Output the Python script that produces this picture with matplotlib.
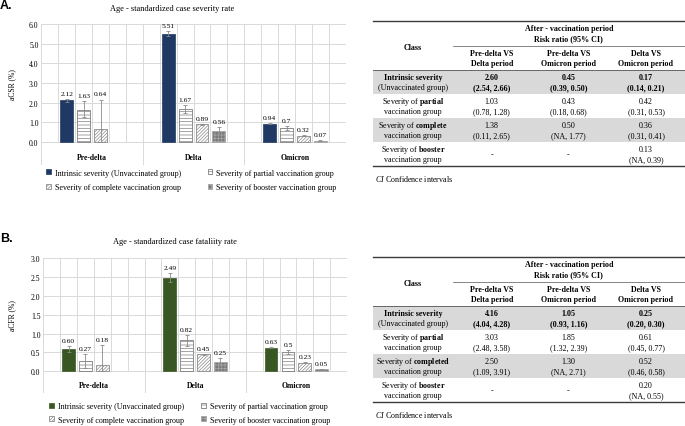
import numpy as np
import matplotlib.pyplot as plt
from matplotlib.ticker import FormatStrFormatter

plt.rcParams['font.family'] = ['Liberation Serif', 'DejaVu Serif']
plt.rcParams['mathtext.fontset'] = 'custom'
plt.rcParams['mathtext.rm'] = 'Liberation Serif'
plt.rcParams['mathtext.bf'] = 'Liberation Serif:bold'
plt.rcParams['mathtext.it'] = 'Liberation Serif:italic'
plt.rcParams['hatch.linewidth'] = 0.5

W, H = 685, 427

periods = ["Pre-delta", "Delta", "Omicron"]
series_names = ["Intrinsic severity (Unvaccinated group)",
                "Severity of partial vaccination group",
                "Severity of complete vaccination group",
                "Severity of booster vaccination group"]

# A. age-standardized case severity rate, aCSR (%)
csr_intrinsic = [2.12, 5.51, 0.94]
csr_partial = [1.63, 1.67, 0.70]
csr_complete = [0.64, 0.89, 0.32]
csr_booster = [np.nan, 0.56, 0.07]
csr_low = [[2.04, 5.41, 0.91], [1.27, 1.47, 0.62], [0.0, 0.85, 0.30], [np.nan, 0.40, 0.05]]
csr_high = [[2.20, 5.63, 0.97], [2.06, 1.88, 0.80], [2.16, 0.93, 0.34], [np.nan, 0.76, 0.09]]
csr_text = [["2.12", "5.51", "0.94"], ["1.63", "1.67", "0.7"],
            ["0.64", "0.89", "0.32"], ["", "0.56", "0.07"]]

# B. age-standardized case fatality rate, aCFR (%)
cfr_intrinsic = [0.60, 2.49, 0.63]
cfr_partial = [0.27, 0.82, 0.50]
cfr_complete = [0.18, 0.45, 0.23]
cfr_booster = [np.nan, 0.25, 0.05]
cfr_low = [[0.52, 2.38, 0.61], [0.10, 0.68, 0.45], [0.0, 0.43, 0.22], [np.nan, 0.15, 0.04]]
cfr_high = [[0.68, 2.60, 0.65], [0.45, 0.96, 0.57], [0.70, 0.47, 0.24], [np.nan, 0.36, 0.06]]
cfr_text = [["0.60", "2.49", "0.63"], ["0.27", "0.82", "0.5"],
            ["0.18", "0.45", "0.23"], ["", "0.25", "0.05"]]

# tables: risk ratio (95% CI)
tab_cols = [("Pre-delta VS", "Delta period"), ("Pre-delta VS", "Omicron period"),
            ("Delta VS", "Omicron period")]
class_a = [("Intrinsic severity", "(Unvaccinated group)"),
           (r"Severity of $\mathbf{partial}$", "vaccination group"),
           (r"Severity of $\mathbf{complete}$", "vaccination group"),
           (r"Severity of $\mathbf{booster}$", "vaccination group")]
rr_a = [["2.60", "0.45", "0.17"], ["1.03", "0.43", "0.42"],
        ["1.38", "0.50", "0.36"], ["-", "-", "0.13"]]
ci_a = [["(2.54, 2.66)", "(0.39, 0.50)", "(0.14, 0.21)"],
        ["(0.78, 1.28)", "(0.18, 0.68)", "(0.31, 0.53)"],
        ["(0.11, 2.65)", "(NA, 1.77)", "(0.31, 0.41)"],
        ["", "", "(NA, 0.39)"]]
class_b = [("Intrinsic severity", "(Unvaccinated group)"),
           (r"Severity of $\mathbf{partial}$", "vaccination group"),
           (r"Severity of $\mathbf{completed}$", "vaccination group"),
           (r"Severity of $\mathbf{booster}$", "vaccination group")]
rr_b = [["4.16", "1.05", "0.25"], ["3.03", "1.85", "0.61"],
        ["2.50", "1.30", "0.52"], ["-", "-", "0.20"]]
ci_b = [["(4.04, 4.28)", "(0.93, 1.16)", "(0.20, 0.30)"],
        ["(2.48, 3.58)", "(1.32, 2.39)", "(0.45, 0.77)"],
        ["(1.09, 3.91)", "(NA, 2.71)", "(0.46, 0.58)"],
        ["", "", "(NA, 0.55)"]]


def fx(px):
    return px / W


def fy(py):
    return 1 - py / H


def draw_chart(ax, values, lows, highs, texts, main_color, ymax, ystep, ybottom):
    styles = [dict(color=main_color, edgecolor=main_color, linewidth=0.5),
              dict(color='white', edgecolor='#7f7f7f', hatch='-----', linewidth=0.6),
              dict(color='white', edgecolor='#8c8c8c', hatch='//////////', linewidth=0.6),
              dict(color='#7a7a7a', edgecolor='#a8a8a8', hatch='+++++', linewidth=0.6)]
    handles = []
    for i, vals in enumerate(values):
        x = np.arange(len(periods)) * 6 + 1.5 + i
        v = np.array(vals, dtype=float)
        b = ax.bar(x, v, width=0.76, zorder=3, label=series_names[i], **styles[i])
        handles.append(b)
        lo = np.array(lows[i], dtype=float)
        hi = np.array(highs[i], dtype=float)
        ok = ~np.isnan(v)
        ax.errorbar(x[ok], v[ok], yerr=[v[ok] - lo[ok], hi[ok] - v[ok]], fmt='none',
                    ecolor='#8a8a8a', elinewidth=0.6, capsize=1.5, capthick=0.6, zorder=4)
        for xi, vi, hii, t in zip(x[ok], v[ok], hi[ok], np.array(texts[i])[ok]):
            ax.annotate(t, (xi, max(vi, hii)), xytext=(0, 2.2), textcoords='offset points',
                        ha='center', va='bottom', fontsize=5.4, zorder=5)

    n = len(periods) * 6
    ax.set_xlim(0, n)
    ax.set_ylim(ybottom, ymax)
    grid = '#d9d9d9'
    for yv in np.arange(0, ymax + 1e-9, ystep):
        ax.axhline(yv, color=grid, lw=0.7, zorder=1)
    minor = [k for k in range(1, n) if k % 6 != 0]
    ax.vlines(minor, 0, ymax, color=grid, lw=0.7, zorder=1)
    ax.vlines(range(0, n + 1, 6), ybottom, ymax, color=grid, lw=0.7, zorder=1)
    for g, name in enumerate(periods):
        ax.text(6 * g + 3, 0.03, name, transform=ax.get_xaxis_transform(),
                ha='center', va='bottom', fontsize=5.5, fontweight='bold')
    for s in ax.spines.values():
        s.set_visible(False)
    ax.set_xticks([])
    ax.set_yticks(np.arange(0, ymax + 1e-9, ystep))
    ax.yaxis.set_major_formatter(FormatStrFormatter('%.1f'))
    ax.tick_params(axis='y', length=0, pad=2, labelsize=5.5)
    return handles


fig = plt.figure(figsize=(W / 100, H / 100), dpi=100)

# ---- chart A
ax_a = fig.add_axes([fx(41.3), fy(166), fx(304.5), 141 / H])
h_a = draw_chart(ax_a, [csr_intrinsic, csr_partial, csr_complete, csr_booster],
                 csr_low, csr_high, csr_text, '#1f3864', 6.0, 1.0, -1.17)
fig.text(fx(0), fy(6), "A.", family='Liberation Sans', fontweight='bold', fontsize=9, va='center')
fig.text(fx(172), fy(9), "Age - standardized case severity rate", ha='center', va='center', fontsize=6)
fig.text(fx(12), fy(85), "aCSR (%)", rotation=90, ha='center', va='center', fontsize=5.5)
order = [0, 2, 1, 3]
fig.legend([h_a[k] for k in order], [series_names[k] for k in order], ncol=2,
           loc='upper left', bbox_to_anchor=(fx(46), fy(169.5)), frameon=False,
           fontsize=5.8, handlelength=0.6, handleheight=0.6, handletextpad=0.5,
           columnspacing=3.3, labelspacing=0.85, borderpad=0, borderaxespad=0)

# ---- chart B
ax_b = fig.add_axes([fx(43.3), fy(394.3), fx(303.7), 135 / H])
h_b = draw_chart(ax_b, [cfr_intrinsic, cfr_partial, cfr_complete, cfr_booster],
                 cfr_low, cfr_high, cfr_text, '#385723', 3.0, 0.5, -0.584)
fig.text(fx(0), fy(239), "B.", family='Liberation Sans', fontweight='bold', fontsize=9, va='center')
fig.text(fx(175), fy(241.7), "Age - standardized case fataliity rate", ha='center', va='center', fontsize=6)
fig.text(fx(12), fy(316), "aCFR (%)", rotation=90, ha='center', va='center', fontsize=5.5)
fig.legend([h_b[k] for k in order], [series_names[k] for k in order], ncol=2,
           loc='upper left', bbox_to_anchor=(fx(49), fy(403)), frameon=False,
           fontsize=5.8, handlelength=0.6, handleheight=0.6, handletextpad=0.5,
           columnspacing=2.1, labelspacing=0.7, borderpad=0, borderaxespad=0)

# ---- tables (pixel coordinates)
ax_t = fig.add_axes([0, 0, 1, 1], zorder=-1)
ax_t.set_xlim(0, W)
ax_t.set_ylim(H, 0)
ax_t.axis('off')


def draw_table(top, classes, rr, ci):
    x0, x1, xc = 373, 685, 452.7
    col_x = [491.7, 568.3, 646]
    class_x = 413
    row_h = 24
    head_h = 48.4
    fs = 5.8
    bottom = top + head_h + row_h * len(classes)
    for r in range(len(classes)):
        if r % 2 == 0:
            ax_t.fill_between([x0, x1], top + head_h + r * row_h, top + head_h + (r + 1) * row_h,
                              color='#d9d9d9', lw=0)
    ax_t.plot([x0, x1], [top, top], color='#3a3a3a', lw=1.0)
    ax_t.plot([x0, x1], [bottom, bottom], color='#3a3a3a', lw=1.0)
    ax_t.plot([xc, x1], [top + 24.4, top + 24.4], color='#555555', lw=0.5)
    ax_t.plot([x0, x1], [top + head_h, top + head_h], color='#555555', lw=0.6)
    ax_t.text(class_x, top + 25.4, "Class", ha='center', va='center', fontsize=fs, fontweight='bold')
    ax_t.text((xc + x1) / 2, top + 7, "After - vaccination period", ha='center', va='center',
              fontsize=fs, fontweight='bold')
    ax_t.text((xc + x1) / 2, top + 17, "Risk ratio (95% CI)", ha='center', va='center',
              fontsize=fs, fontweight='bold')
    for cx, (l1, l2) in zip(col_x, tab_cols):
        ax_t.text(cx, top + 31.7, l1, ha='center', va='center', fontsize=fs, fontweight='bold')
        ax_t.text(cx, top + 41.7, l2, ha='center', va='center', fontsize=fs, fontweight='bold')
    for r, (l1, l2) in enumerate(classes):
        ry = top + head_h + r * row_h
        w = 'bold' if r == 0 else 'normal'
        ax_t.text(class_x, ry + 7.5, l1, ha='center', va='center', fontsize=fs, fontweight=w)
        ax_t.text(class_x, ry + 17, l2, ha='center', va='center', fontsize=fs)
        for c, cx in enumerate(col_x):
            if ci[r][c] == "":
                ax_t.text(cx, ry + row_h / 2, rr[r][c], ha='center', va='center', fontsize=fs)
            else:
                ax_t.text(cx, ry + 7.5, rr[r][c], ha='center', va='center', fontsize=fs, fontweight=w)
                ax_t.text(cx, ry + 17, ci[r][c], ha='center', va='center', fontsize=fs, fontweight=w)
    ax_t.text(375, bottom + 12.5, r"$\mathit{CI}$ Confidence intervals", ha='left', va='center', fontsize=fs)


draw_table(22.3, class_a, rr_a, ci_a)
draw_table(258.3, class_b, rr_b, ci_b)

fig.savefig("out.png", dpi=100)
